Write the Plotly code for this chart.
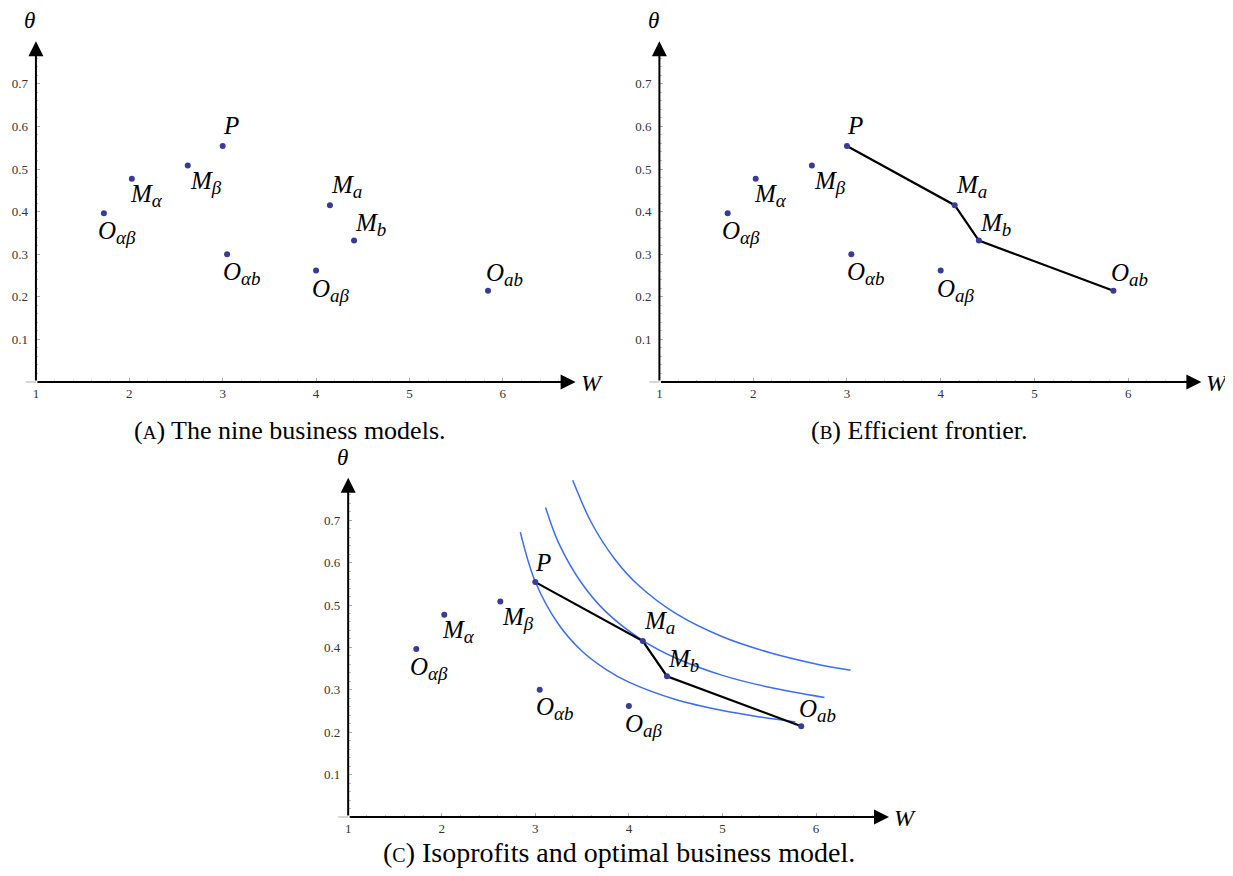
import plotly.graph_objects as go

# ---------------- data ----------------
models = ["P", "Mβ", "Mα", "Oαβ", "Oαb", "Oaβ", "Ma", "Mb", "Oab"]
W_vals = [3.00, 2.626, 2.027, 1.728, 3.047, 4.00, 4.149, 4.407, 5.842]
theta_vals = [0.554, 0.508, 0.477, 0.396, 0.300, 0.262, 0.415, 0.332, 0.214]

frontier = ["P", "Ma", "Mb", "Oab"]

iso_low_W = [2.84, 3.00, 3.25, 3.50, 3.75, 4.00, 4.50, 5.00, 5.40, 5.78]
iso_low_theta = [0.672, 0.555, 0.454, 0.391, 0.349, 0.318, 0.277, 0.251, 0.236, 0.224]
iso_mid_W = [3.11, 3.25, 3.50, 3.75, 4.15, 4.50, 5.00, 5.50, 6.09]
iso_mid_theta = [0.730, 0.646, 0.550, 0.485, 0.416, 0.375, 0.334, 0.306, 0.282]
iso_high_W = [3.40, 3.60, 3.85, 4.10, 4.50, 5.00, 5.50, 6.00, 6.37]
iso_high_theta = [0.794, 0.694, 0.608, 0.547, 0.480, 0.425, 0.388, 0.361, 0.346]

x_ticks = [1, 2, 3, 4, 5, 6]
y_ticks = [0.1, 0.2, 0.3, 0.4, 0.5, 0.6, 0.7]
y_ticktext = ["0.1", "0.2", "0.3", "0.4", "0.5", "0.6", "0.7"]

captions = [
    "(<span style='font-size:19px'>A</span>) The nine business models.",
    "(<span style='font-size:19px'>B</span>) Efficient frontier.",
    "(<span style='font-size:20px'>C</span>) Isoprofits and optimal business model.",
]

SUB = "<sub><span style='font-size:19px'><i>{}</i></span></sub>"
label_html = {
    "P": "<i>P</i>",
    "Mβ": "<i>M</i>" + SUB.format("β"),
    "Mα": "<i>M</i>" + SUB.format("α"),
    "Oαβ": "<i>O</i>" + SUB.format("αβ"),
    "Oαb": "<i>O</i>" + SUB.format("αb"),
    "Oaβ": "<i>O</i>" + SUB.format("aβ"),
    "Ma": "<i>M</i>" + SUB.format("a"),
    "Mb": "<i>M</i>" + SUB.format("b"),
    "Oab": "<i>O</i>" + SUB.format("ab"),
}
# label offsets in pixels (style)
label_off = {
    "P": (-2, 20), "Mβ": (0, -17), "Mα": (-4, -17), "Oαβ": (-8, -19),
    "Oαb": (-6, -19), "Oaβ": (-6, -20), "Ma": (-1, 19), "Mb": (-1, 16),
    "Oab": (-4, 16),
}

# ---------------- layout geometry ----------------
OFF = 8                      # default page margin of the html body
FW, FH = 1233 - 2 * OFF, 876 - 2 * OFF
XR = [1, 6.8]
YR = [0, 0.8]
panels = [
    dict(x0=33, y0=382, sx=93.6, sy=426, cap=(288, 431), capsize=26),
    dict(x0=658, y0=382, sx=94.0, sy=426, cap=(919, 431), capsize=26),
    dict(x0=346, y0=817, sx=93.8, sy=424, cap=(618, 852), capsize=28),
]


def pxx(px):
    return (px - OFF) / FW


def pxy(py):
    return 1 - (py - OFF) / FH


SERIF = "Liberation Serif"
PT_COLOR = "#3a3a98"
BLUE = "#3a6cf4"

fig = go.Figure()
layout = dict(
    width=FW, height=FH, margin=dict(l=0, r=0, t=0, b=0),
    paper_bgcolor="white", plot_bgcolor="white", showlegend=False,
)
annotations = []
shapes = []

for i, p in enumerate(panels):
    n = "" if i == 0 else str(i + 1)
    xa, ya = "x" + n, "y" + n
    xdom = [pxx(p["x0"]), pxx(p["x0"] + (XR[1] - XR[0]) * p["sx"])]
    ydom = [pxy(p["y0"]), pxy(p["y0"] - YR[1] * p["sy"])]
    layout["xaxis" + n] = dict(
        domain=xdom, range=XR, showgrid=False, zeroline=False, showline=False,
        tickvals=x_ticks, ticktext=[str(v) for v in x_ticks], ticks="inside",
        ticklen=4, tickcolor="#aaaaaa", tickwidth=1,
        tickfont=dict(family=SERIF, size=13, color="#333"), ticklabelstandoff=2,
        minor=dict(dtick=0.2, tick0=1, ticks="inside", ticklen=2.5, tickcolor="#c0c0c0"),
        anchor=ya, fixedrange=True,
    )
    layout["yaxis" + n] = dict(
        domain=ydom, range=YR, showgrid=False, zeroline=False, showline=False,
        tickvals=y_ticks, ticktext=y_ticktext, ticks="inside",
        ticklen=4, tickcolor="#aaaaaa", tickwidth=1,
        tickfont=dict(family=SERIF, size=13, color="#333"), ticklabelstandoff=7,
        minor=dict(dtick=0.02, tick0=0, ticks="inside", ticklen=2.5, tickcolor="#c0c0c0"),
        anchor=xa, fixedrange=True,
    )

    # isoprofits (panel C)
    if i == 2:
        for cw, ct in [(iso_low_W, iso_low_theta), (iso_mid_W, iso_mid_theta),
                       (iso_high_W, iso_high_theta)]:
            fig.add_trace(go.Scatter(x=cw, y=ct, mode="lines", xaxis=xa, yaxis=ya,
                                     line=dict(color=BLUE, width=1.5, shape="spline",
                                               smoothing=1.0),
                                     hoverinfo="skip"))
    # efficient frontier (panels B, C)
    if i >= 1:
        fx = [W_vals[models.index(m)] for m in frontier]
        fy = [theta_vals[models.index(m)] for m in frontier]
        fig.add_trace(go.Scatter(x=fx, y=fy, mode="lines", xaxis=xa, yaxis=ya,
                                 line=dict(color="black", width=2.2), hoverinfo="skip"))
    fig.add_trace(go.Scatter(x=W_vals, y=theta_vals, mode="markers", xaxis=xa, yaxis=ya,
                             marker=dict(color=PT_COLOR, size=6), hoverinfo="skip"))

    # axes with arrows
    annotations.append(dict(x=6.78, y=0, ax=1, ay=0, xref=xa, yref=ya, axref=xa, ayref=ya,
                            text="", showarrow=True, arrowhead=2, arrowsize=1.5,
                            arrowwidth=2, arrowcolor="black", standoff=0, startstandoff=0))
    annotations.append(dict(x=1, y=0.8, ax=1, ay=0, xref=xa, yref=ya, axref=xa, ayref=ya,
                            text="", showarrow=True, arrowhead=2, arrowsize=1.5,
                            arrowwidth=2, arrowcolor="black", standoff=0, startstandoff=0))
    # small grey stub of the W axis left of the origin
    shapes.append(dict(type="line", xref="paper", yref="paper",
                       x0=pxx(p["x0"] - 10), x1=pxx(p["x0"]),
                       y0=pxy(p["y0"]), y1=pxy(p["y0"]),
                       line=dict(color="#bbbbbb", width=1.2)))
    # axis names
    annotations.append(dict(xref="paper", yref="paper",
                            x=pxx(p["x0"] - 6), y=pxy(p["y0"] - 0.848 * p["sy"]),
                            xanchor="center", yanchor="middle",
                            text="<i>θ</i>", showarrow=False,
                            font=dict(family=SERIF, size=23, color="black")))
    annotations.append(dict(xref="paper", yref="paper",
                            x=pxx(p["x0"] + 5.77 * p["sx"] + 17), y=pxy(p["y0"] + 1),
                            xanchor="center", yanchor="middle",
                            text="<i>W</i>", showarrow=False,
                            font=dict(family=SERIF, size=24, color="black")))
    # point labels
    for m, wv, tv in zip(models, W_vals, theta_vals):
        dx, dy = label_off[m]
        annotations.append(dict(x=wv, y=tv, xref=xa, yref=ya, text=label_html[m],
                                showarrow=False, xanchor="left", yanchor="middle",
                                xshift=dx, yshift=dy,
                                font=dict(family=SERIF, size=25, color="black")))
    # caption
    annotations.append(dict(xref="paper", yref="paper", x=pxx(p["cap"][0]),
                            y=pxy(p["cap"][1]), text=captions[i], showarrow=False,
                            xanchor="center", yanchor="middle",
                            font=dict(family=SERIF, size=p["capsize"], color="black")))

layout["annotations"] = annotations
layout["shapes"] = shapes
fig.update_layout(**layout)
fig.write_html("out.html")
